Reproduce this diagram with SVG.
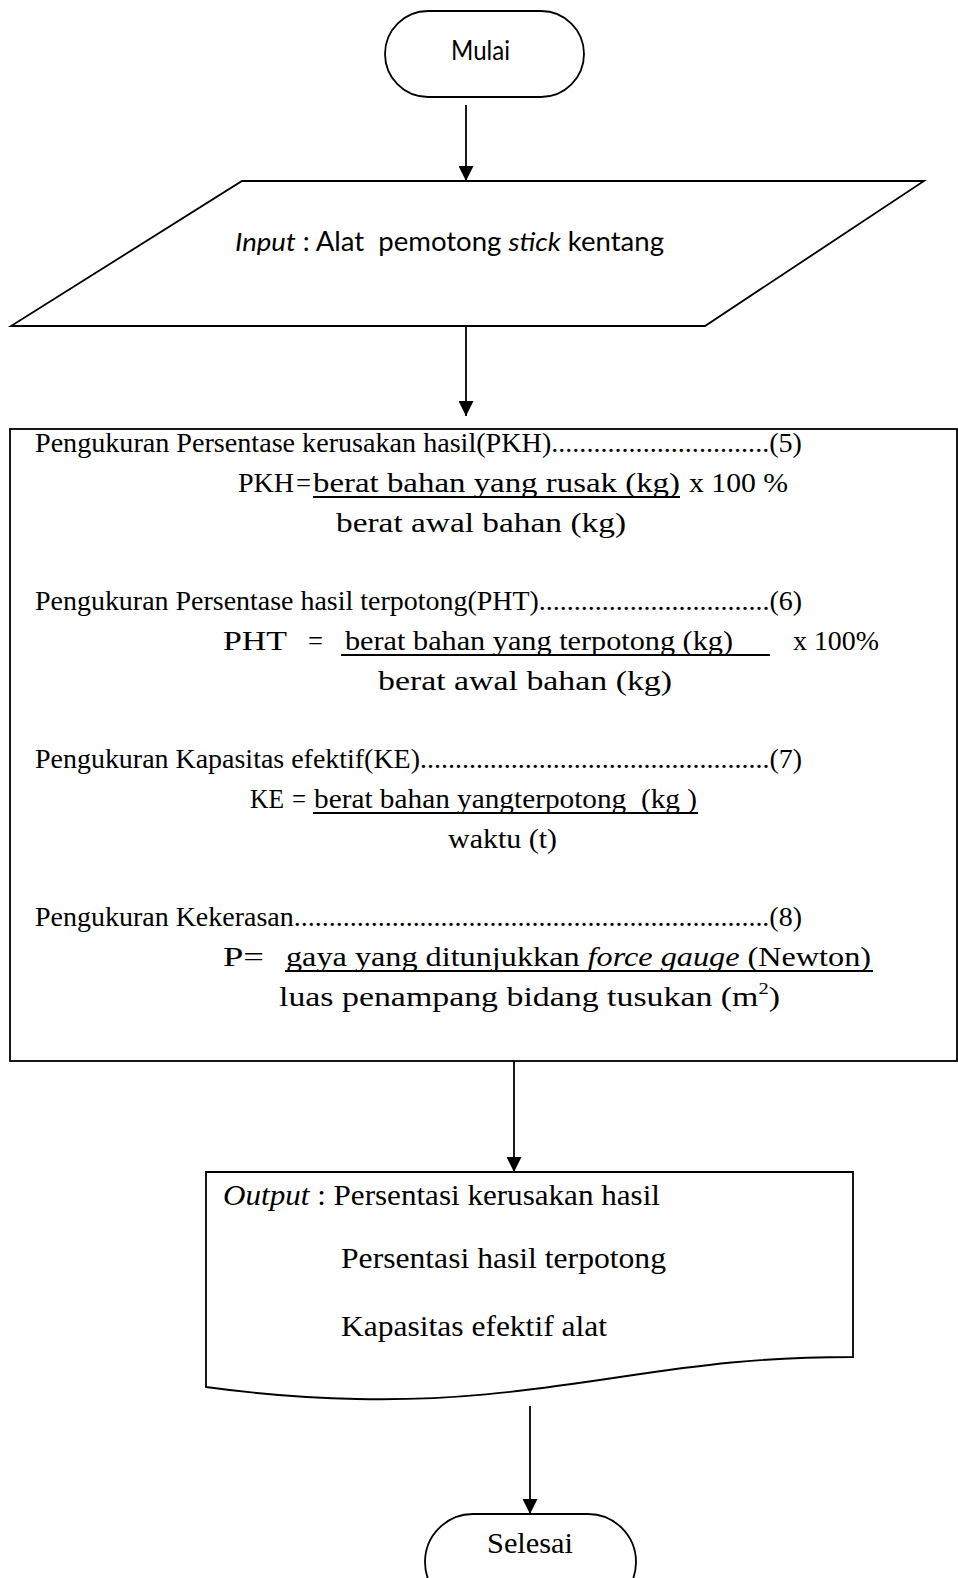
<svg xmlns="http://www.w3.org/2000/svg" width="958" height="1578" viewBox="0 0 958 1578">
<style>
.shape{fill:#fff;stroke:#000;stroke-width:1.8}
.conn{fill:none;stroke:#000;stroke-width:1.8}
.ul{stroke:#000;stroke-width:1.8}
.cal{font-family:Lato,"Open Sans",sans-serif;font-size:26px;fill:#000}
.tnr{font-family:"Liberation Serif","Times New Roman",serif;font-size:28px;fill:#000}
.doc{font-family:"Liberation Serif","Times New Roman",serif;font-size:29px;fill:#000}
.it{font-style:italic}
</style>
<defs>
<marker id="arr" viewBox="0 0 10 10" refX="10" refY="5" markerWidth="15" markerHeight="15" markerUnits="userSpaceOnUse" orient="auto">
<path d="M0,0 L10,5 L0,10 z" fill="#000"/>
</marker>
</defs>

<g id="connectors">
<line class="conn" x1="466" y1="105" x2="466" y2="181" marker-end="url(#arr)"/>
<line class="conn" x1="466" y1="326" x2="466" y2="416" marker-end="url(#arr)"/>
<line class="conn" x1="514" y1="1060" x2="514" y2="1172" marker-end="url(#arr)"/>
<line class="conn" x1="530" y1="1406" x2="530" y2="1514" marker-end="url(#arr)"/>
</g>

<g id="mulai">
<rect class="shape" x="385" y="11" width="199" height="86" rx="43" ry="43"/>
<text class="cal" x="451" y="60" textLength="59" lengthAdjust="spacingAndGlyphs">Mulai</text>
</g>

<g id="input">
<polygon class="shape" points="242,181 924,181 705,326 11,326"/>
<text class="cal" x="235" y="251" textLength="429" lengthAdjust="spacingAndGlyphs" style="white-space:pre"><tspan class="it">Input</tspan> : Alat  pemotong <tspan class="it">stick</tspan> kentang</text>
</g>

<g id="proses">
<rect class="shape" x="10" y="429" width="947" height="632"/>
<text class="tnr" x="35" y="452" textLength="767" lengthAdjust="spacingAndGlyphs">Pengukuran Persentase kerusakan hasil(PKH)...............................(5)</text>
<text class="tnr" x="238" y="492" textLength="56" lengthAdjust="spacingAndGlyphs">PKH</text>
<text class="tnr" x="296" y="492" textLength="15" lengthAdjust="spacingAndGlyphs">=</text>
<text class="tnr" x="313" y="492" textLength="367" lengthAdjust="spacingAndGlyphs">berat bahan yang rusak (kg)</text>
<line class="ul" x1="313" y1="497" x2="680" y2="497"/>
<text class="tnr" x="689" y="492" textLength="99" lengthAdjust="spacingAndGlyphs">x 100 %</text>
<text class="tnr" x="336" y="532" textLength="290" lengthAdjust="spacingAndGlyphs">berat awal bahan (kg)</text>

<text class="tnr" x="35" y="610" textLength="767" lengthAdjust="spacingAndGlyphs">Pengukuran Persentase hasil terpotong(PHT).................................(6)</text>
<text class="tnr" x="223" y="650" textLength="64" lengthAdjust="spacingAndGlyphs">PHT</text>
<text class="tnr" x="308" y="650" textLength="15" lengthAdjust="spacingAndGlyphs">=</text>
<text class="tnr" x="345" y="650" textLength="388" lengthAdjust="spacingAndGlyphs">berat bahan yang terpotong  (kg)</text>
<line class="ul" x1="341" y1="655" x2="770" y2="655"/>
<text class="tnr" x="793" y="650" textLength="86" lengthAdjust="spacingAndGlyphs">x 100%</text>
<text class="tnr" x="378" y="690" textLength="294" lengthAdjust="spacingAndGlyphs">berat awal bahan (kg)</text>

<text class="tnr" x="35" y="768" textLength="767" lengthAdjust="spacingAndGlyphs">Pengukuran Kapasitas efektif(KE)..................................................(7)</text>
<text class="tnr" x="250" y="808" textLength="34" lengthAdjust="spacingAndGlyphs">KE</text>
<text class="tnr" x="292" y="808" textLength="14" lengthAdjust="spacingAndGlyphs">=</text>
<text class="tnr" x="314" y="808" textLength="383" lengthAdjust="spacingAndGlyphs" style="white-space:pre">berat bahan yangterpotong  (kg )</text>
<line class="ul" x1="313" y1="813" x2="698" y2="813"/>
<text class="tnr" x="448" y="848" textLength="109" lengthAdjust="spacingAndGlyphs">waktu (t)</text>

<text class="tnr" x="35" y="926" textLength="767" lengthAdjust="spacingAndGlyphs">Pengukuran Kekerasan....................................................................(8)</text>
<text class="tnr" x="223" y="966" textLength="41" lengthAdjust="spacingAndGlyphs">P=</text>
<text class="tnr" x="286" y="966" textLength="585" lengthAdjust="spacingAndGlyphs">gaya yang ditunjukkan <tspan class="it">force gauge</tspan> (Newton)</text>
<line class="ul" x1="285" y1="971" x2="873" y2="971"/>
<text class="tnr" x="279" y="1006" textLength="501" lengthAdjust="spacingAndGlyphs">luas penampang bidang tusukan (m<tspan font-size="17" dy="-12">2</tspan><tspan dy="12">)</tspan></text>
</g>

<g id="output">
<path class="shape" d="M206,1172 L853,1172 L853,1357 C760,1357 700,1365 620,1377 C520,1392 450,1401 357,1399 C300,1398 250,1393 206,1387 Z"/>
<text class="doc" x="223" y="1205" textLength="437" lengthAdjust="spacingAndGlyphs"><tspan class="it">Output</tspan> : Persentasi kerusakan hasil</text>
<text class="doc" x="341" y="1268" textLength="325" lengthAdjust="spacingAndGlyphs">Persentasi hasil terpotong</text>
<text class="doc" x="341" y="1336" textLength="266" lengthAdjust="spacingAndGlyphs">Kapasitas efektif alat</text>
</g>

<g id="selesai">
<rect class="shape" x="425" y="1514" width="211" height="96" rx="48" ry="48"/>
<text class="doc" x="487" y="1553" font-size="30" textLength="86" lengthAdjust="spacingAndGlyphs">Selesai</text>
</g>
</svg>
